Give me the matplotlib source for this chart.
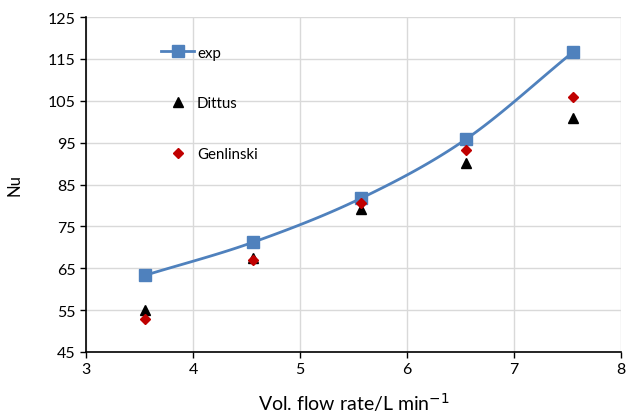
import numpy as np
import matplotlib
matplotlib.use("Agg")
import matplotlib.pyplot as plt

plt.rcParams['font.family'] = ['Lato', 'DejaVu Sans']

flow = [3.55, 4.56, 5.57, 6.55, 7.55]
nu_exp = [63.3, 71.2, 81.7, 95.8, 116.6]
nu_dittus = [55.0, 67.5, 79.2, 90.2, 101.0]
nu_genlinski = [52.8, 67.0, 80.7, 93.2, 106.0]

xticks = [3, 4, 5, 6, 7, 8]
yticks = [45, 55, 65, 75, 85, 95, 105, 115, 125]


def smooth(x, y, n=30):
    x = np.asarray(x, float); y = np.asarray(y, float)
    px = np.concatenate([[2*x[0]-x[1]], x, [2*x[-1]-x[-2]]])
    py = np.concatenate([[2*y[0]-y[1]], y, [2*y[-1]-y[-2]]])
    xs, ys = [], []
    for i in range(1, len(px)-2):
        t = np.linspace(0, 1, n)
        for arr, out in ((px, xs), (py, ys)):
            p0, p1, p2, p3 = arr[i-1], arr[i], arr[i+1], arr[i+2]
            out.append(0.5*((2*p1) + (-p0+p2)*t + (2*p0-5*p1+4*p2-p3)*t**2 + (-p0+3*p1-3*p2+p3)*t**3))
    return np.concatenate(xs), np.concatenate(ys)


fig = plt.figure(figsize=(6.26, 4.14), dpi=100)
ax = fig.add_axes([86/626, 1-353/414, (621-86)/626, (353-18)/414])

sx, sy = smooth(flow, nu_exp)
ax.plot(sx, sy, color='#4F81BD', lw=2, zorder=3)
ax.plot(flow, nu_exp, ls='none', marker='s', ms=8, color='#4F81BD', zorder=4)
ax.plot([], [], color='#4F81BD', lw=2, marker='s', ms=8, label='exp')
ax.plot(flow, nu_dittus, ls='none', marker='^', ms=7, color='black', zorder=5, label='Dittus')
ax.plot(flow, nu_genlinski, ls='none', marker='D', ms=5.5, color='#C00000', zorder=6, label='Genlinski')

ax.set_xlim(3, 8)
ax.set_ylim(45, 125)
ax.set_xticks(xticks)
ax.set_yticks(yticks)
ax.grid(True, color='#D9D9D9', lw=1)
ax.set_axisbelow(True)
for s in ['top', 'right']:
    ax.spines[s].set_visible(False)
for s in ['left', 'bottom']:
    ax.spines[s].set_color('black')
    ax.spines[s].set_linewidth(1.2)
ax.tick_params(direction='out', length=4, width=1, labelsize=11.5, colors='black')

ax.set_xlabel('Vol. flow rate/L min$^{-1}$', fontsize=14, labelpad=10)
ax.set_ylabel('Nu', fontsize=12, labelpad=18)

leg = ax.legend(loc='upper left', bbox_to_anchor=(0.115, 0.955), frameon=False,
                labelspacing=2.45, fontsize=10.8, handlelength=2.2, handletextpad=0.2)

fig.savefig('out.png', dpi=100)
